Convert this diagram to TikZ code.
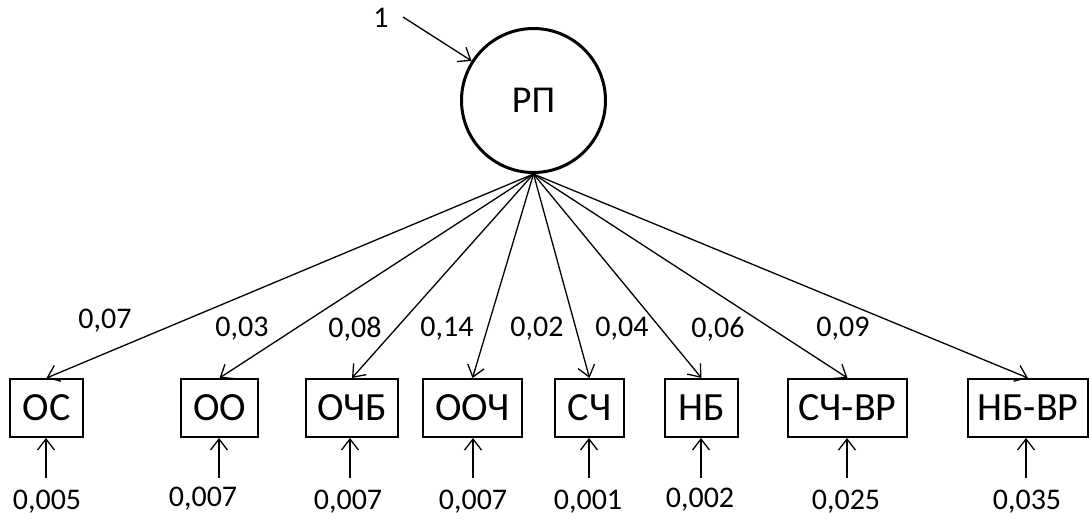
\documentclass[tikz,border=0pt]{standalone}
\usepackage{fontspec}
\setmainfont{Carlito}
\usepackage{tikz}
\usetikzlibrary{arrows.meta,positioning}
\tikzset{>={Straight Barb[length=5.5pt,width=8.5pt]}}

\begin{document}
\begin{tikzpicture}[x=0.5pt, y=-0.5pt,
    var/.style={draw,line width=1pt,minimum height=29pt,inner sep=1pt,font=\fontsize{20}{22}\selectfont},
    num/.style={font=\fontsize{15}{17}\selectfont},
    arr/.style={->,line width=0.65pt}]
  \useasboundingbox (0,0) rectangle (1089,521);

  % Latent factor
  \node[draw,circle,line width=1.5pt,minimum size=72pt,font=\fontsize{19}{21}\selectfont] (rp) at (533.5,100.5) {РП};
  \node[num] (one) at (381,18) {1};
  \coordinate (rpin) at (403,17);
  \draw[arr] (rpin) -- (rp);

  % Observed variables
  \node[var,minimum width=36.5pt] (os) at (46.5,408) {ОС};
  \node[var,minimum width=38.5pt] (oo) at (219.5,408) {ОО};
  \node[var,minimum width=46pt] (ochb) at (352,408) {ОЧБ};
  \node[var,minimum width=49.5pt] (ooch) at (472.5,408) {ООЧ};
  \node[var,minimum width=34.5pt] (sch) at (589.5,408) {СЧ};
  \node[var,minimum width=36.5pt] (nb) at (701.5,408) {НБ};
  \node[var,minimum width=59.5pt] (schvr) at (847.5,408) {СЧ-ВР};
  \node[var,minimum width=60pt] (nbvr) at (1028,408) {НБ-ВР};

  % Loadings
  \foreach \v in {os,oo,ochb,ooch,sch,nb,schvr,nbvr}
    \draw[arr] (rp.south) -- (\v.north);
  \node[num] at (105,321) {0,07};
  \node[num] at (242,329) {0,03};
  \node[num] at (355,329) {0,08};
  \node[num] at (447,329) {0,14};
  \node[num] at (537,329) {0,02};
  \node[num] at (622,329) {0,04};
  \node[num] at (718,329) {0,06};
  \node[num] at (843,329) {0,09};

  % Errors
  \foreach \v/\x/\lx/\ly/\e in {os/46/47/502/{0,005}, oo/219/203/499/{0,007}, ochb/350/348/502/{0,007},
      ooch/473/473/502/{0,007}, sch/589/588/502/{0,001}, nb/701/700/500/{0,002},
      schvr/847/846/502/{0,025}, nbvr/1026/1027/502/{0,035}} {
    \coordinate (e\v) at (\x,478);
    \draw[arr] (e\v) -- (e\v |- \v.south);
    \node[num] at (\lx,\ly) {\e};
  }
\end{tikzpicture}
\end{document}
